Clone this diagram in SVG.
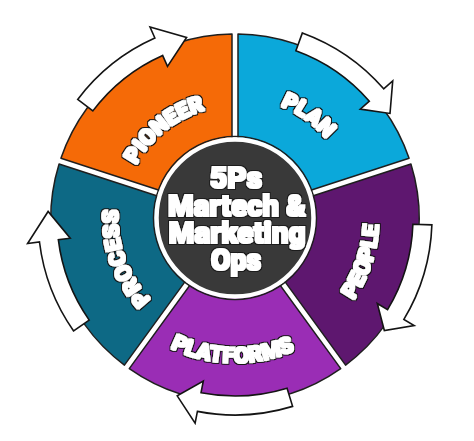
<svg xmlns="http://www.w3.org/2000/svg" width="474" height="441" viewBox="0 0 474 441">
<style>
.seg{stroke:#1e1e1e;stroke-width:1.5;stroke-linejoin:round}
.arr{fill:#fff;stroke:#141414;stroke-width:1.6;stroke-linejoin:miter}
.lbl{font-family:Roboto,"Liberation Sans",sans-serif;font-weight:900;font-size:22px;fill:#fff;filter:url(#lab)}
.ctr{font-family:Roboto,"Liberation Sans",sans-serif;font-weight:900;font-size:29px;fill:#fff;text-anchor:middle;filter:url(#cen)}
</style>
<defs>
<filter id="lab" x="-25%" y="-25%" width="150%" height="150%">
<feMorphology in="SourceAlpha" operator="dilate" radius="2.3" result="o"/>
<feFlood flood-color="#141414"/>
<feComposite in2="o" operator="in" result="outline"/>
<feMorphology in="SourceGraphic" operator="dilate" radius="0.55" result="b"/>
<feMerge><feMergeNode in="outline"/><feMergeNode in="b"/></feMerge>
</filter>
<filter id="cen" x="-10%" y="-20%" width="120%" height="140%">
<feMorphology in="SourceAlpha" operator="dilate" radius="1.6" result="o"/>
<feFlood flood-color="#1a1a1a"/>
<feComposite in2="o" operator="in" result="outline"/>
<feMorphology in="SourceGraphic" operator="dilate" radius="0.7" result="b"/>
<feMerge><feMergeNode in="outline"/><feMergeNode in="b"/></feMerge>
</filter>
<path id="pPioneer" d="M124.26,234.75 A112,112 0 0 1 275.87,113.72"/>
<path id="pPlan" d="M184.82,107.89 A121,121 0 0 1 355.44,229.6"/>
<path id="pProcess" d="M214.69,333.22 A117,117 0 0 1 145.37,142.79"/>
<path id="pPeople" d="M262.97,359.27 A144,144 0 0 0 343.35,123.15"/>
<path id="pPlatforms" d="M108.18,288.3 A145,145 0 0 0 359.29,292.68"/>
</defs>
<rect width="474" height="441" fill="#fff"/>
<g id="plan">
<path class="seg" fill="#0ba8da" d="M238,198 L238,34 A184,184 0 0 1 409.07,158.29 L253.09,208.97 Z"/>
<text class="lbl"><textPath href="#pPlan" startOffset="50%" text-anchor="middle">PLAN</textPath></text>
</g>
<g id="people">
<path class="seg" fill="#5e176f" d="M254.95,214.67 L410.93,163.99 A184,184 0 0 1 345.59,365.1 L249.19,232.42 Z"/>
<text class="lbl"><textPath href="#pPeople" startOffset="50%" text-anchor="middle">PEOPLE</textPath></text>
</g>
<g id="platforms">
<path class="seg" fill="#9a2db5" d="M244.33,235.94 L340.73,368.62 A184,184 0 0 1 129.27,368.62 L225.67,235.94 Z"/>
<text class="lbl"><textPath href="#pPlatforms" startOffset="50%" text-anchor="middle">PLATFORMS</textPath></text>
</g>
<g id="process">
<path class="seg" fill="#0d6985" d="M220.81,232.42 L124.41,365.1 A184,184 0 0 1 59.07,163.99 L215.05,214.67 Z"/>
<text class="lbl"><textPath href="#pProcess" startOffset="50%" text-anchor="middle">PROCESS</textPath></text>
</g>
<g id="pioneer">
<path class="seg" fill="#f56a07" d="M216.91,208.97 L60.93,158.29 A184,184 0 0 1 232,34 L232,198 Z"/>
<text class="lbl"><textPath href="#pPioneer" startOffset="50%" text-anchor="middle">PIONEER</textPath></text>
</g>
<g id="connectors">
<path class="arr" d="M77.68,99.45 A197,197 0 0 1 154.88,38.04 L150,27.08 L186.6,37.38 L167.49,66.36 L162.61,55.4 A178,178 0 0 0 92.85,110.88 Z"/>
<path class="arr" d="M302.37,32.88 A197,197 0 0 1 383.68,88.75 L392.73,80.88 L390.02,113.43 L360.28,109.09 L369.34,101.21 A178,178 0 0 0 295.88,50.73 Z"/>
<path class="arr" d="M431.88,224.88 A197,197 0 0 1 403.87,319.46 L414.15,325.64 L384.34,330.54 L377.3,303.49 L387.58,309.67 A178,178 0 0 0 412.89,224.21 Z"/>
<path class="arr" d="M292.6,406.39 A197,197 0 0 1 197.41,411.38 L195.12,423.15 L177.22,395.86 L203.33,380.95 L201.04,392.72 A178,178 0 0 0 287.05,388.22 Z"/>
<path class="arr" d="M73.62,331 A197,197 0 0 1 39.48,242.01 L27.57,243.48 L48.11,211.47 L70.24,238.24 L58.33,239.7 A178,178 0 0 0 89.18,320.1 Z"/>
</g>
<g id="center">
<circle cx="235" cy="218" r="81.5" fill="none" stroke="#1e1e1e" stroke-width="1.5"/>
<circle cx="235" cy="218" r="78.5" fill="#393939" stroke="#fff" stroke-width="4.5"/>
<text class="ctr" x="236" y="188" textLength="52" lengthAdjust="spacingAndGlyphs">5Ps</text>
<text class="ctr" x="237" y="216" textLength="138" lengthAdjust="spacingAndGlyphs">Martech &amp;</text>
<text class="ctr" x="237" y="243" textLength="137" lengthAdjust="spacingAndGlyphs">Marketing</text>
<text class="ctr" x="236" y="270" textLength="50" lengthAdjust="spacingAndGlyphs">Ops</text>
</g>
</svg>
